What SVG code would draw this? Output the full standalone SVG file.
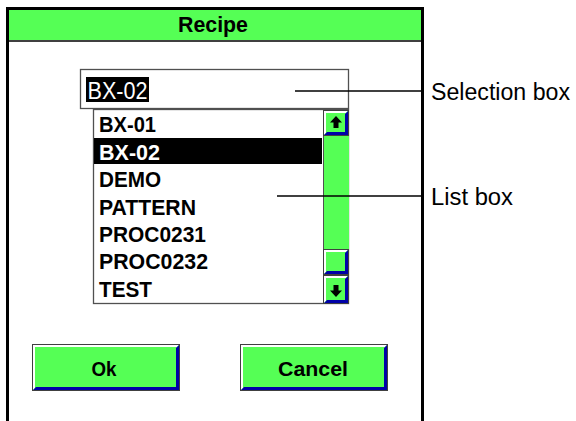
<svg xmlns="http://www.w3.org/2000/svg" width="576" height="421" viewBox="0 0 576 421">
  <style>
    .face { fill: #55ff55; stroke: #404040; stroke-width: 1; }
    .hi { fill: #ffffff; }
    .lo { fill: #0000a8; }
    .item { font-family: "Liberation Sans", Arial, sans-serif; font-weight: bold; font-size: 22.5px; fill: #000; }
    .btn { font-family: "Liberation Sans", Arial, sans-serif; font-weight: bold; font-size: 20px; fill: #000; text-anchor: middle; }
    .label { font-family: "Liberation Sans", Arial, sans-serif; font-size: 23.5px; fill: #000; }
    .lead { stroke: #000; stroke-width: 1.3; fill: none; }
  </style>

  <rect width="576" height="421" fill="#ffffff"/>

  <!-- dialog frame and title bar -->
  <g id="dialog">
    <rect x="9" y="10" width="412" height="30" fill="#55ff55"/>
    <line x1="9" y1="41" x2="421" y2="41" stroke="#404040" stroke-width="2"/>
    <path d="M7.5,421 V8.5 H422.5 V421" fill="none" stroke="#000" stroke-width="3"/>
    <text x="178" y="32" class="item" textLength="70" lengthAdjust="spacingAndGlyphs">Recipe</text>
  </g>

  <!-- edit field holding the current selection -->
  <g id="selection-box">
    <rect x="80.5" y="69.5" width="268" height="39" fill="#fff" stroke="#505050" stroke-width="1.3"/>
    <rect x="86" y="77" width="63" height="25" fill="#000"/>
    <text x="87.5" y="99" font-family="Liberation Sans, Arial, sans-serif" font-size="24" fill="#fff" textLength="60" lengthAdjust="spacingAndGlyphs">BX-02</text>
  </g>

  <!-- list of recipes -->
  <g id="list-box">
    <rect x="93.5" y="109.5" width="255" height="194" fill="#fff" stroke="#505050" stroke-width="1.3"/>
    <rect x="94" y="138" width="228" height="26" fill="#000"/>
    <text x="99" y="132" class="item" textLength="57" lengthAdjust="spacingAndGlyphs">BX-01</text>
    <text x="99" y="159.5" class="item" style="fill:#fff" textLength="61" lengthAdjust="spacingAndGlyphs">BX-02</text>
    <text x="99" y="187" class="item" textLength="62" lengthAdjust="spacingAndGlyphs">DEMO</text>
    <text x="99" y="214.5" class="item" textLength="97" lengthAdjust="spacingAndGlyphs">PATTERN</text>
    <text x="99" y="242" class="item" textLength="107" lengthAdjust="spacingAndGlyphs">PROC0231</text>
    <text x="99" y="269" class="item" textLength="109" lengthAdjust="spacingAndGlyphs">PROC0232</text>
    <text x="99" y="296.5" class="item" textLength="53" lengthAdjust="spacingAndGlyphs">TEST</text>
  </g>

  <!-- vertical scroll bar -->
  <g id="scrollbar">
    <rect x="323" y="136" width="26" height="113" fill="#55ff55"/>
    <line x1="323.5" y1="110" x2="323.5" y2="304" stroke="#505050" stroke-width="1"/>
    <!-- up button -->
    <rect class="face" x="323.5" y="110.5" width="25" height="25"/>
    <polygon class="hi" points="324,111 348,111 346,113 326,113 326,133 324,135"/>
    <polygon class="lo" points="348,111 348,135 324,135 327,132 345,132 345,114"/>
    <polygon points="336,116 342,122.5 338.5,122.5 338.5,128 333.5,128 333.5,122.5 330,122.5" fill="#000"/>
    <!-- thumb -->
    <rect class="face" x="323.5" y="249.5" width="25" height="25"/>
    <polygon class="hi" points="324,250 348,250 346,252 326,252 326,272 324,274"/>
    <polygon class="lo" points="348,250 348,274 324,274 327,271 345,271 345,253"/>
    <!-- down button -->
    <rect class="face" x="323.5" y="275.5" width="25" height="28"/>
    <polygon class="hi" points="324,276 348,276 346,278 326,278 326,301 324,303"/>
    <polygon class="lo" points="348,276 348,303 324,303 327,300 345,300 345,279"/>
    <polygon points="336,297 342,290.5 338.5,290.5 338.5,285 333.5,285 333.5,290.5 330,290.5" fill="#000"/>
  </g>

  <!-- push buttons -->
  <g id="ok-button">
    <rect class="face" x="32.5" y="344.5" width="147" height="46"/>
    <polygon class="hi" points="33,345 179,345 177,347 35,347 35,388 33,390"/>
    <polygon class="lo" points="179,345 179,390 33,390 36,387 176,387 176,348"/>
    <text x="104" y="376" class="btn" textLength="25" lengthAdjust="spacingAndGlyphs">Ok</text>
  </g>
  <g id="cancel-button">
    <rect class="face" x="240.5" y="344.5" width="147" height="46"/>
    <polygon class="hi" points="241,345 387,345 385,347 243,347 243,388 241,390"/>
    <polygon class="lo" points="387,345 387,390 241,390 244,387 384,387 384,348"/>
    <text x="313" y="376" class="btn" textLength="70" lengthAdjust="spacingAndGlyphs">Cancel</text>
  </g>

  <!-- callout leaders -->
  <g id="connectors">
    <line class="lead" x1="295" y1="91" x2="421" y2="91"/>
    <line class="lead" x1="277" y1="196" x2="421" y2="196"/>
  </g>

  <g id="labels">
    <text x="431" y="100" class="label" textLength="139" lengthAdjust="spacingAndGlyphs">Selection box</text>
    <text x="431" y="205" class="label" textLength="82" lengthAdjust="spacingAndGlyphs">List box</text>
  </g>
</svg>
